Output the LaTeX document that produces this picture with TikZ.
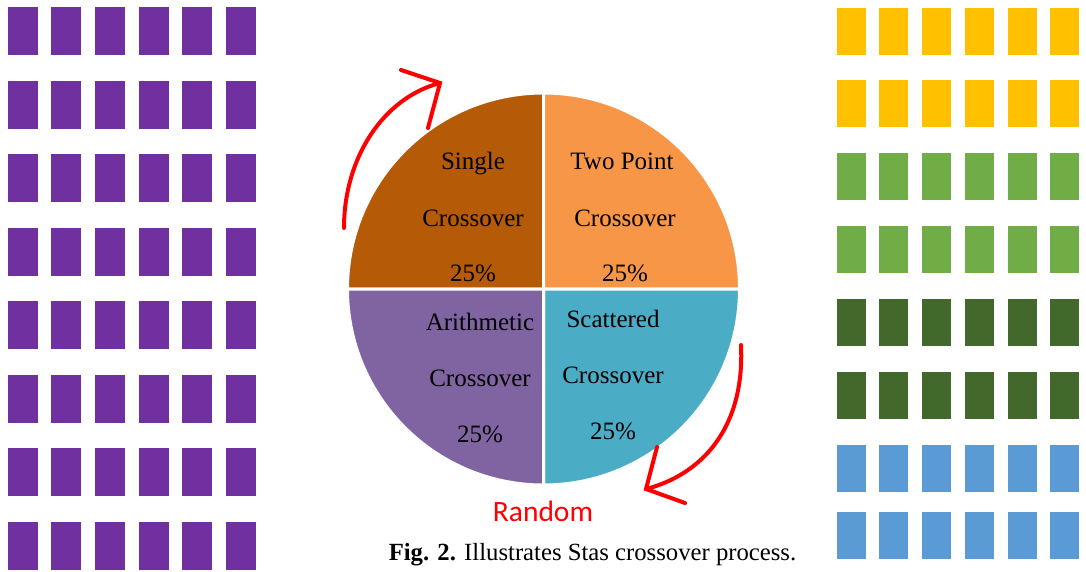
\documentclass[tikz,border=0pt]{standalone}
\usepackage{fontspec}
\setmainfont{Liberation Serif}
\newfontfamily\randfont{Carlito}
\definecolor{purp}{HTML}{7030A0}
\definecolor{yel}{HTML}{FFC000}
\definecolor{lgreen}{HTML}{70AD47}
\definecolor{dgreen}{HTML}{43682B}
\definecolor{lblue}{HTML}{5B9BD5}
\definecolor{qa}{HTML}{B55A06}
\definecolor{qb}{HTML}{F79646}
\definecolor{qc}{HTML}{8064A2}
\definecolor{qd}{HTML}{4BACC6}
\begin{document}
\begin{tikzpicture}[x=1pt,y=-1pt,
  pietext/.style={anchor=base,inner sep=0pt,font=\fontsize{25}{30}\selectfont},
  quad/.style={draw=white,line width=3pt},
  redarrow/.style={draw=red,line width=4pt,line cap=round,line join=miter}]
\useasboundingbox (0,0) rectangle (1086,572);
% left grid
\foreach \x in {8,51,95,139,182,226}
  \foreach \y in {7,81,154,228,301,375,448,522}
    \fill[purp] (\x,\y) rectangle ++(29.5,48);
% right grid
\foreach \x in {837,879,922,965,1008,1050}{
  \foreach \y in {8,80} \fill[yel] (\x,\y) rectangle ++(29,47);
  \foreach \y in {153,226} \fill[lgreen] (\x,\y) rectangle ++(29,47);
  \foreach \y in {299,372} \fill[dgreen] (\x,\y) rectangle ++(29,47);
  \foreach \y in {445,512} \fill[lblue] (\x,\y) rectangle ++(29,47);
}
% pie
\coordinate (c) at (543.5,289);
\path[quad,fill=qa] (c) -- (347.5,289) arc[start angle=180,end angle=90,radius=196pt] -- cycle;
\path[quad,fill=qb] (c) -- (543.5,93) arc[start angle=90,end angle=0,radius=196pt] -- cycle;
\path[quad,fill=qd] (c) -- (739.5,289) arc[start angle=0,end angle=-90,radius=196pt] -- cycle;
\path[quad,fill=qc] (c) -- (543.5,485) arc[start angle=-90,end angle=-180,radius=196pt] -- cycle;
% texts
\node[pietext] (s1) at (473,170) {Single};
\node[pietext] (s2) at (473,226.7) {Crossover};
\node[pietext] (s3) at (473,281.7) {25\%};
\node[pietext] (t1) at (622,170) {Two Point};
\node[pietext] (t2) at (625,226.7) {Crossover};
\node[pietext] (t3) at (625,281.7) {25\%};
\node[pietext] (a1) at (480,330.7) {Arithmetic};
\node[pietext] (a2) at (480,386.7) {Crossover};
\node[pietext] (a3) at (480,442.7) {25\%};
\node[pietext] (c1) at (613,327.3) {Scattered};
\node[pietext] (c2) at (613,383.3) {Crossover};
\node[pietext] (c3) at (613,439.3) {25\%};
\node[anchor=base,inner sep=0pt,text=red,font=\randfont\fontsize{29.5}{34}\selectfont] (rand) at (543,521.7) {Random};
\node[anchor=base,inner sep=0pt,font=\fontsize{24.7}{29}\selectfont] (cap) at (592.5,560.7) {\textbf{Fig. 2.} Illustrates Stas crossover process.};
% arrows
\coordinate (p1) at (344,228);
\coordinate (tip1) at (440,83);
\coordinate (h1a) at (401,70);
\coordinate (h1b) at (428,128);
\path[redarrow] (p1) .. controls (344,158) and (383,98) .. (tip1);
\path[redarrow] (h1a) -- (tip1) -- (h1b);
\coordinate (p2) at (741,345);
\coordinate (tip2) at (646,489);
\coordinate (h2a) at (657,447);
\coordinate (h2b) at (685,503);
\path[redarrow] (p2) .. controls (745,430) and (700,475) .. (tip2);
\path[redarrow] (h2a) -- (tip2) -- (h2b);
\end{tikzpicture}
\end{document}
